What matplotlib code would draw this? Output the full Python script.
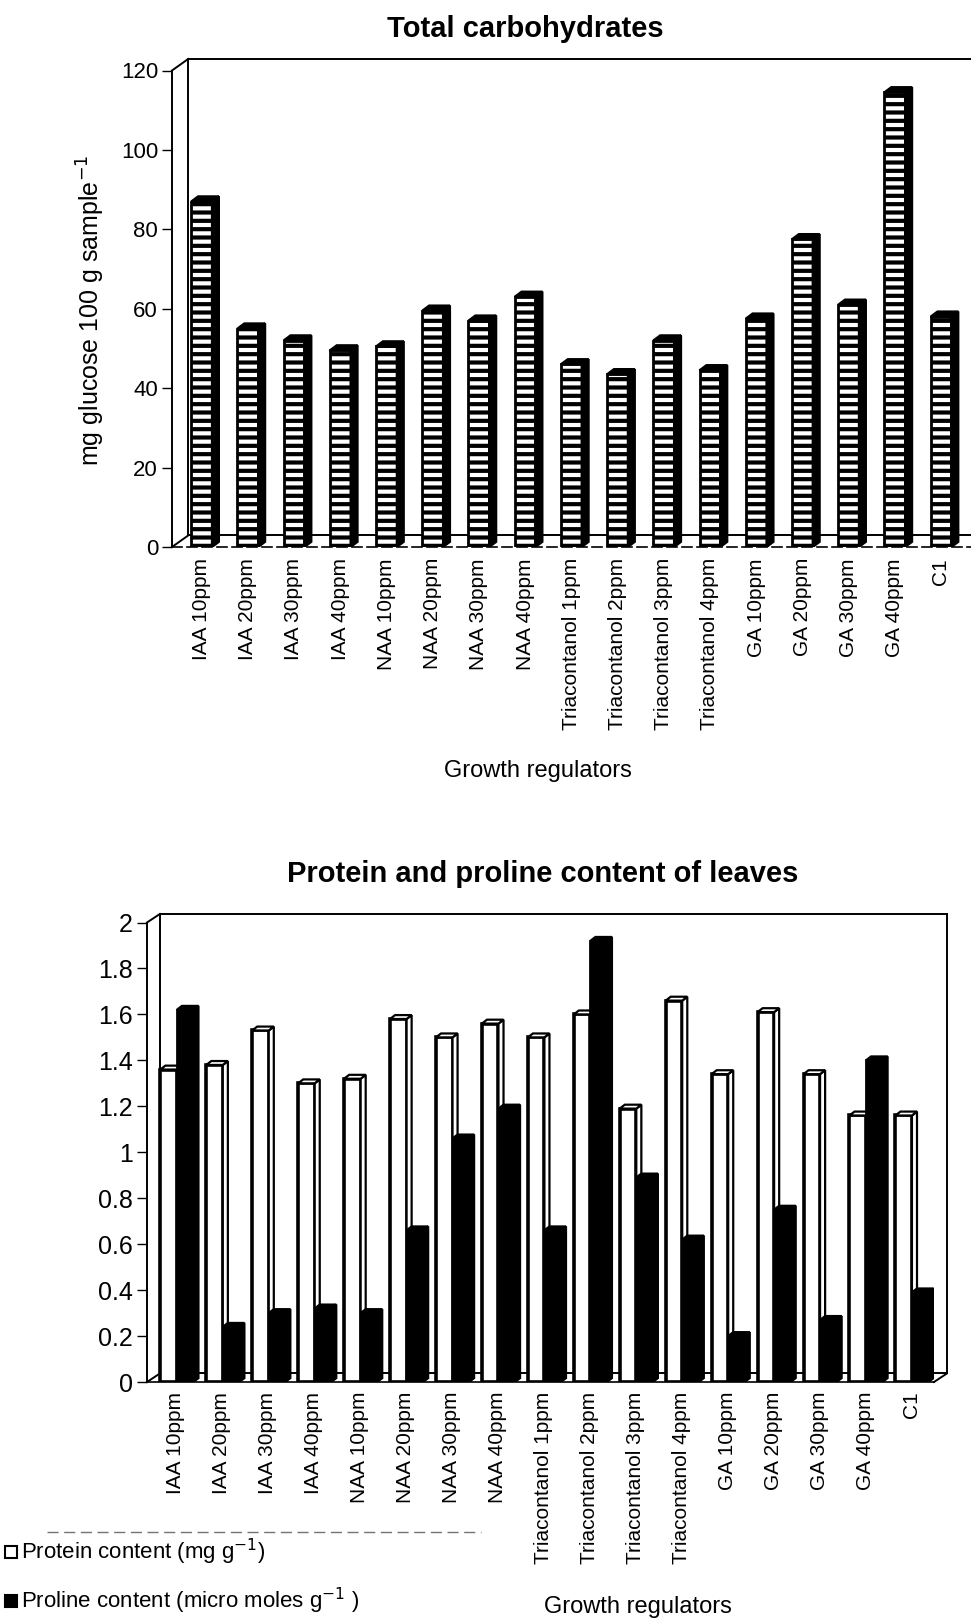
import matplotlib
matplotlib.use("Agg")
import matplotlib.pyplot as plt
from matplotlib.patches import Polygon, Rectangle
from matplotlib.lines import Line2D

plt.rcParams['font.family'] = ['Liberation Sans', 'DejaVu Sans']
plt.rcParams['hatch.linewidth'] = 3.0

regulators = ["IAA 10ppm", "IAA 20ppm", "IAA 30ppm", "IAA 40ppm",
              "NAA 10ppm", "NAA 20ppm", "NAA 30ppm", "NAA 40ppm",
              "Triacontanol 1ppm", "Triacontanol 2ppm", "Triacontanol 3ppm", "Triacontanol 4ppm",
              "GA 10ppm", "GA 20ppm", "GA 30ppm", "GA 40ppm", "C1"]

# mg glucose / 100 g sample
carbohydrates = [87, 55, 52, 49.5, 50.5, 59.5, 57, 63, 46, 43.5, 52, 44.5, 57.5, 77.5, 61, 114.5, 58]
# mg / g
protein = [1.36, 1.38, 1.53, 1.30, 1.32, 1.58, 1.50, 1.56, 1.50, 1.60, 1.19, 1.66, 1.34, 1.61, 1.34, 1.16, 1.16]
# micro moles / g
proline = [1.62, 0.24, 0.30, 0.32, 0.30, 0.66, 1.06, 1.19, 0.66, 1.92, 0.89, 0.62, 0.20, 0.75, 0.27, 1.40, 0.39]

W, H = 971, 1622


def frac(x0, y0, x1, y1):
    # pixel box -> figure fraction rect
    return [x0 / W, 1 - y1 / H, (x1 - x0) / W, (y1 - y0) / H]


def column(ax, x, width, height, dx, dy, face, side, hatch=None, lw=2):
    # front face through ax.bar, then side and top faces for the 3d look
    ax.bar(x, height, width, color=face, edgecolor='black', linewidth=lw, hatch=hatch, zorder=3)
    left, right = x - width / 2, x + width / 2
    ax.add_patch(Polygon([(right, 0), (right + dx, dy), (right + dx, height + dy), (right, height)],
                         closed=True, facecolor=side, edgecolor='black', linewidth=1.6, zorder=3))
    ax.add_patch(Polygon([(left, height), (right, height), (right + dx, height + dy), (left + dx, height + dy)],
                         closed=True, facecolor=side, edgecolor='black', linewidth=1.6, zorder=3))


def walls(ax, x0, x1, ymax, dx, dy, right_wall):
    kw = dict(color='black', lw=1.4, clip_on=False, zorder=1)
    xb = x0 + dx
    ax.plot([x0, xb], [0, dy], **kw)
    ax.plot([x0, xb], [ymax, ymax + dy], **kw)
    ax.plot([xb, xb], [dy, ymax + dy], **kw)
    ax.plot([xb, x1 + dx], [ymax + dy, ymax + dy], **kw)
    ax.plot([xb, x1 + dx], [dy, dy], **kw)
    if right_wall:
        ax.plot([x1 + dx, x1 + dx], [dy, ymax + dy], **kw)
        ax.plot([x1, x1 + dx], [0, dy], **kw)


def style_axis(ax, pad, ysize):
    for s in ['top', 'right']:
        ax.spines[s].set_visible(False)
    ax.spines['left'].set_linewidth(1.4)
    ax.spines['bottom'].set_linewidth(1.2)
    ax.set_xticks(range(len(regulators)))
    ax.set_xticklabels(regulators, rotation=90, fontsize=15, va='top')
    ax.tick_params(axis='x', length=0, pad=pad)
    ax.tick_params(axis='y', length=7, width=1, labelsize=ysize, pad=3)
    ax.set_facecolor('none')


fig = plt.figure(figsize=(W / 100, H / 100), dpi=100)

# --- total carbohydrates ---
ax1 = fig.add_axes(frac(172, 70.5, 971, 547))
ax1.set_xlim(-0.64, 16.65)
ax1.set_ylim(0, 120)
walls(ax1, -0.64, 16.65, 120, 0.35, 2.9, right_wall=False)
for i, v in enumerate(carbohydrates):
    column(ax1, i, 0.45, v, 0.15, 1.3, 'white', 'black', hatch='--')
ax1.set_yticks(range(0, 121, 20))
style_axis(ax1, 8, 16)
ax1.spines['bottom'].set_linestyle((0, (6, 3)))

fig.text(525 / W, 1 - 29 / H, "Total carbohydrates", ha='center', va='center',
         fontsize=21, fontweight='bold')
fig.text(91 / W, 1 - 310 / H, "mg glucose 100 g sample$^{-1}$", ha='center', va='center',
         rotation=90, fontsize=18)
fig.text(538 / W, 1 - 771 / H, "Growth regulators", ha='center', va='center', fontsize=17)

# --- protein and proline ---
ax2 = fig.add_axes(frac(147, 922.5, 934, 1382))
ax2.set_xlim(-0.63, 16.5)
ax2.set_ylim(0, 2)
walls(ax2, -0.63, 16.5, 2, 0.28, 0.037, right_wall=True)
for i in range(len(regulators)):
    column(ax2, i - 0.16, 0.36, protein[i], 0.11, 0.017, 'white', 'white', lw=2.6)
    column(ax2, i + 0.2, 0.36, proline[i], 0.11, 0.017, 'black', 'black')
yt = [k / 10 for k in range(0, 21, 2)]
ax2.set_yticks(yt)
ax2.set_yticklabels([f"{v:g}" for v in yt])
style_axis(ax2, 7, 18)

fig.text(543 / W, 1 - 874 / H, "Protein and proline content of leaves", ha='center', va='center',
         fontsize=21, fontweight='bold')
fig.text(638 / W, 1 - 1607 / H, "Growth regulators", ha='center', va='center', fontsize=17)

# legend
fig.add_artist(Line2D([47 / W, 481 / W], [1 - 1532 / H] * 2, color='0.45', lw=1, ls=(0, (8, 4))))
for yc, fc, label in [(1552, 'white', "Protein content (mg g$^{-1}$)"),
                      (1601, 'black', "Proline content (micro moles g$^{-1}$ )")]:
    fig.add_artist(Rectangle((5 / W, 1 - (yc + 6) / H), 12 / W, 12 / H,
                             facecolor=fc, edgecolor='black', lw=1.5))
    fig.text(21 / W, 1 - yc / H, label, ha='left', va='center', fontsize=16)

fig.savefig("out.png", dpi=100)
